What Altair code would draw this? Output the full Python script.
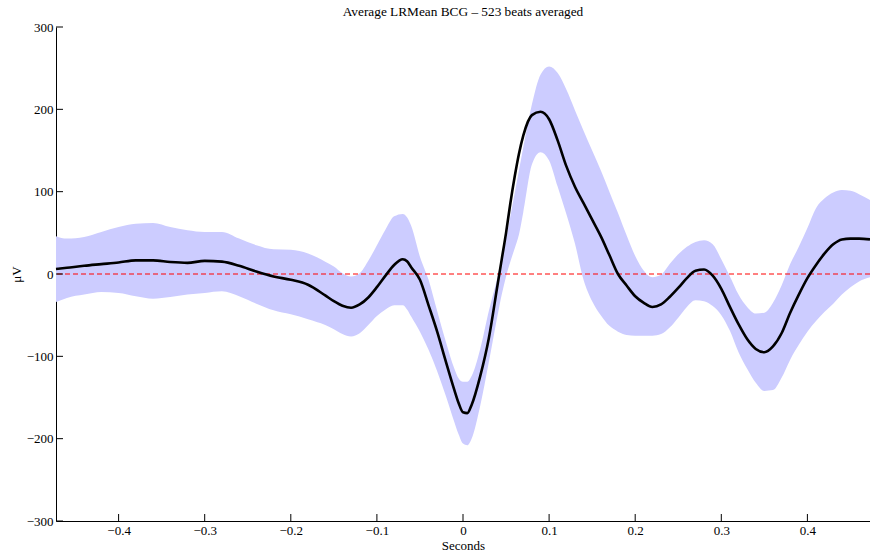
import altair as alt
import pandas as pd

# Time axis (seconds relative to the R-peak)
t = [-0.4727, -0.46, -0.44, -0.42, -0.40, -0.38, -0.36, -0.34, -0.32, -0.30,
     -0.28, -0.26, -0.24, -0.22, -0.20, -0.18, -0.16, -0.15, -0.14, -0.13,
     -0.12, -0.11, -0.10, -0.09, -0.08, -0.07, -0.065, -0.06, -0.05, -0.04,
     -0.03, -0.02, -0.01, -0.005, 0.0, 0.005, 0.01, 0.02, 0.03, 0.04,
     0.045, 0.05, 0.055, 0.06, 0.065, 0.07, 0.08, 0.09, 0.10, 0.11,
     0.12, 0.13, 0.14, 0.15, 0.16, 0.17, 0.18, 0.19, 0.20, 0.21,
     0.22, 0.23, 0.24, 0.25, 0.26, 0.27, 0.28, 0.29, 0.30, 0.31,
     0.32, 0.33, 0.34, 0.35, 0.36, 0.37, 0.38, 0.39, 0.40, 0.41,
     0.42, 0.43, 0.44, 0.45, 0.46, 0.4727]

# Averaged BCG waveform (uV)
mean_uv = [6, 7.5, 10, 12, 14, 16.5, 16.5, 14.5, 13.5, 16,
           15, 10, 3, -3, -7, -13, -26, -33, -38.5, -41,
           -37, -28.5, -16, -2, 11, 18, 15.5, 8, -7, -38,
           -70, -106, -141, -157, -168, -169, -159, -124, -78, -14,
           18, 50, 86, 118, 146, 168, 193, 197, 188, 162,
           131, 106, 86, 66, 46, 23, 0, -14, -27, -35,
           -40, -37, -28, -17, -5, 4, 5.5, -2, -18, -40,
           -61, -79, -91, -95, -88, -72, -47, -25, -5, 11,
           25, 36, 42, 43, 43, 42]

# Upper edge of the spread band (uV)
upper_uv = [46, 43, 45, 51, 57, 61, 62, 57, 53, 51,
            51, 43, 35, 30, 29.5, 25, 15, 9, 1, -3,
            1, 16, 35, 54, 70, 73, 69, 58, 21, -7,
            -45, -82, -115, -127, -131, -131, -124, -91, -45, -4,
            20, 43, 70, 98, 126, 154, 206, 242, 252, 244,
            224, 199, 174, 150, 126, 100, 74, 47, 22, 4,
            -4, -1, 12, 24, 33, 39, 41, 36, 18, -3,
            -25, -40, -48, -47, -35, -14, 12, 33, 56, 80,
            92, 99, 102, 101, 97, 90]

# Lower edge of the spread band (uV)
lower_uv = [-34, -29, -25, -22, -23, -27, -30, -28, -25, -23,
            -21, -27, -36, -44, -49, -55, -62, -67, -73, -76,
            -72, -62, -51, -43, -38, -38, -43, -52, -70, -92,
            -118, -148, -180, -195, -206, -208, -200, -160, -107, -51,
            -25, -3, 15, 31, 48, 75, 133, 148, 138, 106,
            73, 37, -7, -33, -50, -63, -70, -74, -75, -75,
            -75, -73, -65, -53, -40, -32, -33, -39, -50, -69,
            -95, -115, -132, -142, -141, -126, -104, -86, -70, -57,
            -46, -36, -25, -16, -9, -4]

x_ticks = [-0.4, -0.3, -0.2, -0.1, 0.0, 0.1, 0.2, 0.3, 0.4]
y_ticks = [-300, -200, -100, 0, 100, 200, 300]

W, H = 814, 494
FONT = "Liberation Serif"

df = pd.DataFrame({"t": t, "mean": mean_uv, "upper": upper_uv, "lower": lower_uv})
xt = pd.DataFrame({"v": x_ticks})
yt = pd.DataFrame({"v": y_ticks})
zero = pd.DataFrame({"v": [0]})

x_scale = alt.Scale(domain=[-0.4727, 0.4727], nice=False, zero=False)
y_scale = alt.Scale(domain=[-300, 300], nice=False)

x_axis = alt.Axis(values=x_ticks, format="~g", ticks=False, grid=False,
                  domainColor="black", domainWidth=1, labelPadding=3,
                  title="Seconds", titleX=W / 2, titleY=24,
                  titleBaseline="middle", titleAlign="center")
y_axis = alt.Axis(values=y_ticks, format="d", ticks=False, grid=False,
                  domainColor="black", domainWidth=1, labelPadding=3,
                  title="\u03bcV", titleX=-40, titleY=H / 2,
                  titleBaseline="middle", titleAlign="center")

band = alt.Chart(df).mark_area(color="#ccccff", opacity=1, interpolate="monotone").encode(
    x=alt.X("t:Q", scale=x_scale, axis=x_axis),
    y=alt.Y("upper:Q", scale=y_scale, axis=y_axis),
    y2="lower:Q",
)

zero_line = alt.Chart(zero).mark_rule(color="red", strokeWidth=1, strokeDash=[5, 3]).encode(
    y=alt.Y("v:Q", scale=y_scale)
)

line = alt.Chart(df).mark_line(color="black", strokeWidth=2.6, interpolate="monotone").encode(
    x=alt.X("t:Q", scale=x_scale),
    y=alt.Y("mean:Q", scale=y_scale),
)

# inward-pointing tick marks
x_tick_marks = alt.Chart(xt).mark_rule(color="black", strokeWidth=1).encode(
    x=alt.X("v:Q", scale=x_scale), y=alt.value(H), y2=alt.value(H - 7)
)
y_tick_marks = alt.Chart(yt).mark_rule(color="black", strokeWidth=1).encode(
    y=alt.Y("v:Q", scale=y_scale), x=alt.value(0), x2=alt.value(7)
)

chart = alt.layer(band, zero_line, line, x_tick_marks, y_tick_marks).properties(
    width=W,
    height=H,
    autosize=alt.AutoSizeParams(type="none"),
    padding={"left": 56, "top": 27, "right": 0, "bottom": 31},
    title=alt.TitleParams("Average LRMean BCG \u2013 523 beats averaged",
                          font=FONT, fontSize=13.3, fontWeight="normal",
                          color="black", anchor="middle", offset=3),
).configure_view(stroke=None).configure_axis(
    labelFont=FONT, labelFontSize=13, labelColor="black",
    titleFont=FONT, titleFontSize=13, titleFontWeight="normal", titleColor="black",
)

chart.save("out.html", embed_options={"renderer": "svg", "actions": False})
